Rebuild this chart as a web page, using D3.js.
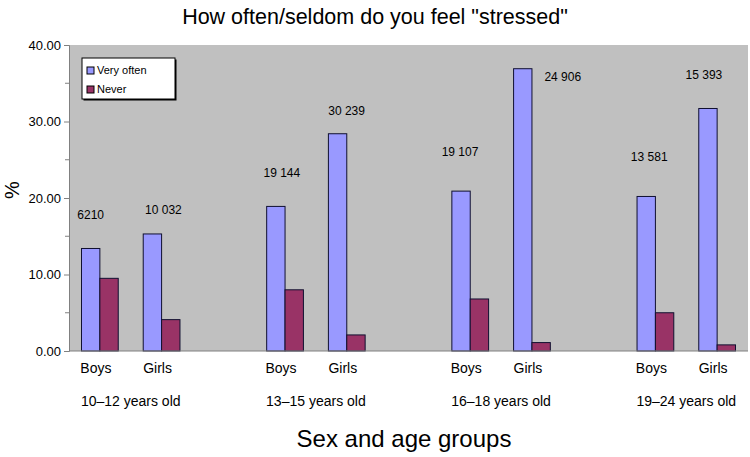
<!DOCTYPE html>
<html><head><meta charset="utf-8">
<script src="https://cdn.jsdelivr.net/npm/d3@7"></script>
<style>
html,body{margin:0;padding:0;background:#fff;}
text{font-family:"Liberation Sans",Arial,sans-serif;fill:#000;}
</style></head>
<body><svg id="c" width="750" height="457"></svg>
<script>
// ---- data ----
const ageGroups = ["10\u201312 years old","13\u201315 years old","16\u201318 years old","19\u201324 years old"];
const sexes = ["Boys","Girls"];
const seriesNames = ["Very often","Never"];
const veryOften = [13.4, 15.3, 18.9, 28.4, 20.9, 36.9, 20.2, 31.7];
const never     = [9.5, 4.1, 8.0, 2.1, 6.8, 1.1, 5.0, 0.8];
const sampleSizes = ["6210","10 032","19 144","30 239","19 107","24 906","13 581","15 393"];
const yTicks = [0,10,20,30,40];

// ---- layout ----
const W = 750, H = 457;
const m = {left:69, right:2, top:45, bottom:106};
const svg = d3.select("#c");
const colors = ["#9999FF","#993366"];

// categories: Boys, Girls, (blank) per age group
const cats = [];
ageGroups.forEach((a,gi)=>{
  sexes.forEach((s,si)=>cats.push({key:gi*3+si, sex:s, g:gi, idx:gi*2+si}));
});
const nCats = ageGroups.length*3 - 1;

const x = d3.scaleBand().domain(d3.range(nCats)).range([m.left, W-m.right]).padding(0);
const xs = d3.scaleBand().domain([0,1]).range([0, x.bandwidth()]).paddingInner(0).paddingOuter(0.68);
const y = d3.scaleLinear().domain([0,40]).range([H-m.bottom, m.top]);

// plot background
svg.append("rect").attr("x",m.left).attr("y",m.top)
  .attr("width",W-m.right-m.left).attr("height",(H-m.bottom)-m.top)
  .attr("fill","#C0C0C0");

// bars
const data = [];
cats.forEach(c=>{
  [veryOften[c.idx], never[c.idx]].forEach((v,si)=>data.push({c, si, v}));
});
svg.append("g").selectAll("rect").data(data).join("rect")
  .attr("x",d=>x(d.c.key)+xs(d.si))
  .attr("width",xs.bandwidth())
  .attr("y",d=>y(d.v))
  .attr("height",d=>y(0)-y(d.v))
  .attr("fill",d=>colors[d.si])
  .attr("stroke","#101030").attr("stroke-width",1);

// y axis
const yAxis = d3.axisLeft(y).tickValues(yTicks).tickFormat(d3.format(".2f")).tickSize(5).tickPadding(3);
const ya = svg.append("g").attr("transform",`translate(${m.left},0)`).call(yAxis);
ya.select(".domain").attr("stroke","#808080");
ya.selectAll(".tick line").attr("stroke","#808080");
ya.selectAll("text").attr("font-size",13).attr("font-family","Liberation Sans, Arial, sans-serif");
// minor ticks
svg.append("g").selectAll("line").data([5,15,25,35]).join("line")
  .attr("x1",m.left-4).attr("x2",m.left).attr("y1",d=>y(d)).attr("y2",d=>y(d))
  .attr("stroke","#808080");

// x axis line
svg.append("line").attr("x1",m.left).attr("x2",W-m.right).attr("y1",y(0)).attr("y2",y(0))
  .attr("stroke","#808080");

// category labels
svg.append("g").selectAll("text").data(cats).join("text")
  .attr("x",d=>x(d.key)+x.bandwidth()/2-4).attr("y",373)
  .attr("text-anchor","middle").attr("font-size",14).text(d=>d.sex);
svg.append("g").selectAll("text").data(ageGroups).join("text")
  .attr("x",(d,i)=>x(i*3+1)).attr("y",406)
  .attr("text-anchor","middle").attr("font-size",14).text(d=>d);

// sample size annotations (manually placed offsets relative to the "Very often" bar top)
const labelOffsets = [[0,-29],[11,-20],[6,-29],[9,-19],[-1,-35],[40,12],[3,-35],[-4,-29]];
svg.append("g").selectAll("text").data(cats).join("text")
  .attr("x",(d,i)=>x(d.key)+xs(0)+xs.bandwidth()/2+labelOffsets[i][0])
  .attr("y",(d,i)=>y(veryOften[d.idx])+labelOffsets[i][1])
  .attr("text-anchor","middle").attr("font-size",12)
  .text(d=>sampleSizes[d.idx]);

// legend
const lg = svg.append("g").attr("transform","translate(82,58)");
lg.append("rect").attr("x",1.5).attr("y",1.5).attr("width",93).attr("height",41).attr("fill","#000");
lg.append("rect").attr("width",93).attr("height",41).attr("fill","#fff").attr("stroke","#000");
seriesNames.forEach((s,i)=>{
  lg.append("rect").attr("x",5).attr("y",9+i*19).attr("width",7).attr("height",7)
    .attr("fill",colors[i]).attr("stroke","#000");
  lg.append("text").attr("x",15).attr("y",16+i*19).attr("font-size",11).text(s);
});

// titles
svg.append("text").attr("x",375).attr("y",24).attr("text-anchor","middle")
  .attr("font-size",21.5).text('How often/seldom do you feel "stressed"');
svg.append("text").attr("x",404).attr("y",447).attr("text-anchor","middle")
  .attr("font-size",24).text("Sex and age groups");
svg.append("text").attr("transform","translate(19,190) rotate(-90)").attr("text-anchor","middle")
  .attr("font-size",20).text("%");
</script></body></html>
